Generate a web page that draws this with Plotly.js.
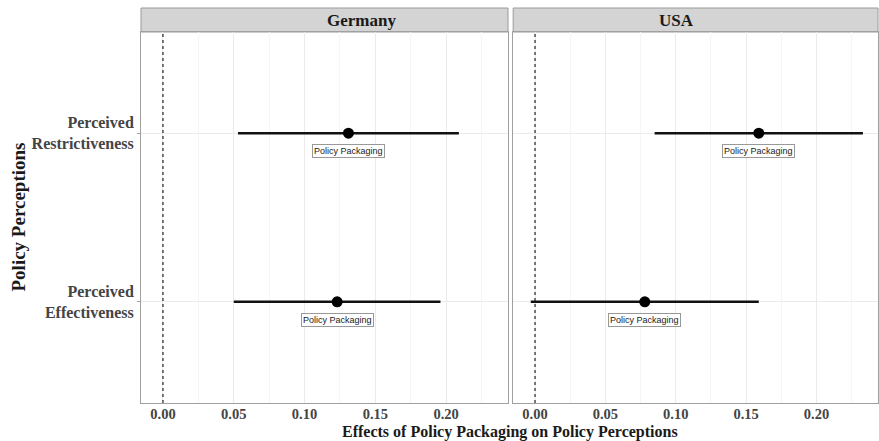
<!DOCTYPE html>
<html>
<head>
<meta charset="utf-8">
<script src="https://cdn.plot.ly/plotly-3.0.1.min.js"></script>
<style>html,body{margin:0;padding:0;background:#fff}#chart{width:879px;height:441px}</style>
</head>
<body>
<div id="chart"></div>
<script>
// ---- data ----
var categories = ["Perceived<br>Effectiveness", "Perceived<br>Restrictiveness"];
var panels = ["Germany", "USA"];
var germanyEst = [0.123, 0.131];
var germanyLow = [0.050, 0.053];
var germanyHigh = [0.196, 0.209];
var usaEst = [0.078, 0.159];
var usaLow = [-0.003, 0.085];
var usaHigh = [0.159, 0.233];
var pointLabel = "Policy Packaging";
var tickVals = [0, 0.05, 0.10, 0.15, 0.20];
var tickText = ["0.00", "0.05", "0.10", "0.15", "0.20"];
var refLine = 0;

function mkTrace(est, lo, hi, xa, ya) {
  return {
    type: 'scatter', mode: 'markers',
    x: est, y: categories, xaxis: xa, yaxis: ya,
    marker: {color: '#000', size: 11},
    error_x: {
      type: 'data', symmetric: false,
      array: est.map(function(v, i){ return hi[i] - v; }),
      arrayminus: est.map(function(v, i){ return v - lo[i]; }),
      color: '#111', thickness: 2.6, width: 0
    },
    hoverinfo: 'none', showlegend: false
  };
}

var traces = [
  mkTrace(germanyEst, germanyLow, germanyHigh, 'x', 'y'),
  mkTrace(usaEst, usaLow, usaHigh, 'x2', 'y2')
];

var serif = 'Liberation Serif, Times New Roman, serif';
function xax(domain) {
  return {
    domain: domain, range: [-0.0155, 0.2437],
    tickvals: tickVals, ticktext: tickText,
    tickfont: {family: serif, size: 14.5, color: '#444', weight: 'bold'},
    showgrid: true, gridcolor: '#ebebeb', gridwidth: 1,
    minor: {dtick: 0.025, tick0: 0, showgrid: true, gridcolor: '#f5f5f5', gridwidth: 1},
    zeroline: false, showline: true, mirror: true, linecolor: '#a0a0a0', linewidth: 1,
    ticks: '', ticklabelstandoff: -2, fixedrange: true
  };
}
function yax(anchor, showLabels) {
  return {
    anchor: anchor, type: 'category', categoryarray: categories,
    range: [-0.6, 1.6],
    showticklabels: showLabels, tickfont: {family: serif, size: 16, color: '#444', weight: 'bold'},
    showgrid: true, gridcolor: '#ebebeb', zeroline: false,
    showline: true, mirror: true, linecolor: '#a0a0a0', linewidth: 1,
    ticks: showLabels ? 'outside' : '', ticklen: 3, tickcolor: '#a0a0a0', fixedrange: true
  };
}

var d1 = [0, 0.498], d2 = [0.505, 1];
var stripH = 24 / 371;
var shapes = [], annotations = [];
[[d1, panels[0]], [d2, panels[1]]].forEach(function(p) {
  shapes.push({type: 'rect', xref: 'paper', yref: 'paper', x0: p[0][0], x1: p[0][1], y0: 1, y1: 1 + stripH,
    fillcolor: '#d4d4d4', line: {color: '#9a9a9a', width: 1}, layer: 'below'});
  annotations.push({xref: 'paper', yref: 'paper', x: (p[0][0] + p[0][1]) / 2, y: 1 + stripH / 2,
    text: '<b>' + p[1] + '</b>', showarrow: false, yanchor: 'middle',
    font: {family: serif, size: 17, color: '#1a1a1a'}});
});
[['x', 'y'], ['x2', 'y2']].forEach(function(a) {
  shapes.push({type: 'line', xref: a[0], yref: a[1] + ' domain', x0: refLine, x1: refLine, y0: 0, y1: 1,
    line: {color: '#222', width: 1.2, dash: 'dot'}});
});
function addLabels(est, xa, ya) {
  est.forEach(function(v, i) {
    annotations.push({xref: xa, yref: ya, x: v, y: categories[i], text: pointLabel, showarrow: false,
      yshift: -18, font: {family: 'Liberation Sans, Arial, sans-serif', size: 9, color: '#222'},
      bgcolor: '#fff', bordercolor: '#999', borderwidth: 1, borderpad: 1});
  });
}
addLabels(germanyEst, 'x', 'y');
addLabels(usaEst, 'x2', 'y2');
annotations.push({xref: 'paper', yref: 'paper', x: 0.5, y: 0, yshift: -29, yanchor: 'middle',
  text: '<b>Effects of Policy Packaging on Policy Perceptions</b>', showarrow: false,
  font: {family: serif, size: 16, color: '#1a1a1a'}});
annotations.push({xref: 'paper', yref: 'paper', x: 0, xshift: -123, y: 0.5, textangle: -90,
  text: '<b>Policy Perceptions</b>', showarrow: false, xanchor: 'center', yanchor: 'middle',
  font: {family: serif, size: 19, color: '#1a1a1a'}});

var layout = {
  width: 879, height: 441,
  margin: {l: 141, r: 1, t: 32, b: 38},
  paper_bgcolor: '#fff', plot_bgcolor: '#fff',
  xaxis: xax(d1), xaxis2: xax(d2),
  yaxis: yax('x', true), yaxis2: Object.assign(yax('x2', false), {matches: 'y'}),
  shapes: shapes, annotations: annotations, showlegend: false
};

Plotly.newPlot('chart', traces, layout, {staticPlot: true, displayModeBar: false});
</script>
</body>
</html>
